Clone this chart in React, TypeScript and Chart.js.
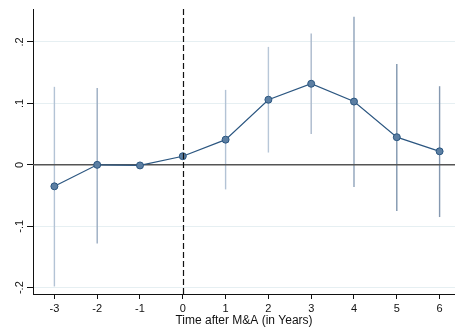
import React, { useEffect, useRef } from "react";
import { Chart, registerables } from "chart.js";

Chart.register(...registerables);

const years = [-3, -2, -1, 0, 1, 2, 3, 4, 5, 6];
const estimates = [-0.035, 0.0, -0.001, 0.014, 0.041, 0.106, 0.132, 0.103, 0.045, 0.022];
const lowerCI = [-0.198, -0.128, null, null, -0.04, 0.02, 0.05, -0.036, -0.075, -0.085];
const upperCI = [0.127, 0.125, null, null, 0.122, 0.192, 0.214, 0.241, 0.164, 0.128];
const yTickValues = [-0.2, -0.1, 0, 0.1, 0.2];
const yTickLabels = ["-.2", "-.1", "0", ".1", ".2"];
const xTickValues = [-3, -2, -1, 0, 1, 2, 3, 4, 5, 6];
const xTitle = "Time after M&A (in Years)";

const ciColors = ["#b3c3d5", "#9aacc1", "#b3c3d5", "#b3c3d5", "#b3c3d5", "#b8c7d8", "#aab9cc", "#8ea2ba", "#8096ae", "#8598b0"];

const FONT = "'Liberation Sans', Arial, sans-serif";

export default function App() {
  const ref = useRef<HTMLCanvasElement | null>(null);
  useEffect(() => {
    if (!ref.current) return;
    const refLines = {
      id: "refLines",
      beforeDatasetsDraw(chart: any) {
        const { ctx, chartArea, scales } = chart;
        const y0 = scales.y.getPixelForValue(0);
        ctx.save();
        ctx.lineWidth = 1.4;
        years.forEach((x, i) => {
          if (lowerCI[i] == null || upperCI[i] == null) return;
          const px = scales.x.getPixelForValue(x);
          ctx.strokeStyle = ciColors[i];
          ctx.beginPath();
          ctx.moveTo(px, scales.y.getPixelForValue(lowerCI[i] as number));
          ctx.lineTo(px, scales.y.getPixelForValue(upperCI[i] as number));
          ctx.stroke();
        });
        ctx.strokeStyle = "#555555";
        ctx.lineWidth = 1.5;
        ctx.beginPath();
        ctx.moveTo(chartArea.left, y0);
        ctx.lineTo(chartArea.right, y0);
        ctx.stroke();
        ctx.restore();
      },
      afterDatasetsDraw(chart: any) {
        const { ctx, chartArea, scales } = chart;
        const x0 = Math.round(scales.x.getPixelForValue(0)) + 0.5;
        ctx.save();
        ctx.strokeStyle = "#111111";
        ctx.lineWidth = 1.2;
        ctx.setLineDash([6, 3]);
        ctx.beginPath();
        ctx.moveTo(x0, chartArea.top);
        ctx.lineTo(x0, chartArea.bottom);
        ctx.stroke();
        ctx.restore();
      },
      afterDraw(chart: any) {
        const { ctx, scales } = chart;
        ctx.save();
        ctx.fillStyle = "#111111";
        ctx.font = "11px " + FONT;
        ctx.textAlign = "center";
        ctx.textBaseline = "middle";
        yTickValues.forEach((v, i) => {
          const py = scales.y.getPixelForValue(v);
          ctx.save();
          ctx.translate(20, py);
          ctx.rotate(-Math.PI / 2);
          ctx.fillText(yTickLabels[i], 0, 0);
          ctx.restore();
        });
        ctx.restore();
      },
    };

    const chart = new Chart(ref.current, {
      type: "line",
      data: {
        datasets: [
          {
            data: years.map((x, i) => ({ x, y: estimates[i] })),
            borderColor: "#2b5680",
            borderWidth: 1.2,
            pointRadius: 3.5,
            pointBackgroundColor: "#5c7fa3",
            pointBorderColor: "#2b5680",
            pointBorderWidth: 1,
            tension: 0,
          } as any,
        ],
      },
      options: {
        animation: false,
        responsive: false,
        maintainAspectRatio: false,
        layout: { autoPadding: false, padding: { top: 9, right: 0, left: 0, bottom: 0 } },
        plugins: { legend: { display: false }, tooltip: { enabled: false } },
        scales: {
          x: {
            type: "linear",
            min: -3.5,
            max: 6.36,
            offset: false,
            afterBuildTicks: (s: any) => {
              s.ticks = xTickValues.map((v) => ({ value: v }));
            },
            afterFit: (s: any) => {
              s.height = 35;
            },
            ticks: {
              color: "#111111",
              font: { family: FONT, size: 11 },
              padding: 3,
              maxRotation: 0,
              autoSkip: false,
              callback: (v: any) => String(v),
            },
            grid: {
              offset: false,
              drawOnChartArea: false,
              drawTicks: true,
              tickLength: 5,
              tickColor: "#111111",
            },
            border: { display: true, color: "#111111", width: 1 },
            title: {
              display: true,
              text: xTitle,
              color: "#111111",
              font: { family: FONT, size: 12 },
              padding: { top: 0, bottom: 1 },
            },
          },
          y: {
            type: "linear",
            min: -0.2103,
            max: 0.2537,
            afterBuildTicks: (s: any) => {
              s.ticks = yTickValues.map((v) => ({ value: v }));
            },
            afterFit: (s: any) => {
              s.width = 33;
            },
            ticks: { display: false },
            grid: {
              color: "#e6eff2",
              lineWidth: 1,
              drawTicks: true,
              tickLength: 6,
              tickColor: "#111111",
            },
            border: { display: true, color: "#111111", width: 1 },
          },
        },
      } as any,
      plugins: [refLines],
    });
    return () => chart.destroy();
  }, []);
  return (
    <div style={{ position: "fixed", left: 0, top: 0, width: 455, height: 329, background: "#ffffff" }}>
      <canvas ref={ref} width={455} height={329} style={{ display: "block" }} />
    </div>
  );
}
